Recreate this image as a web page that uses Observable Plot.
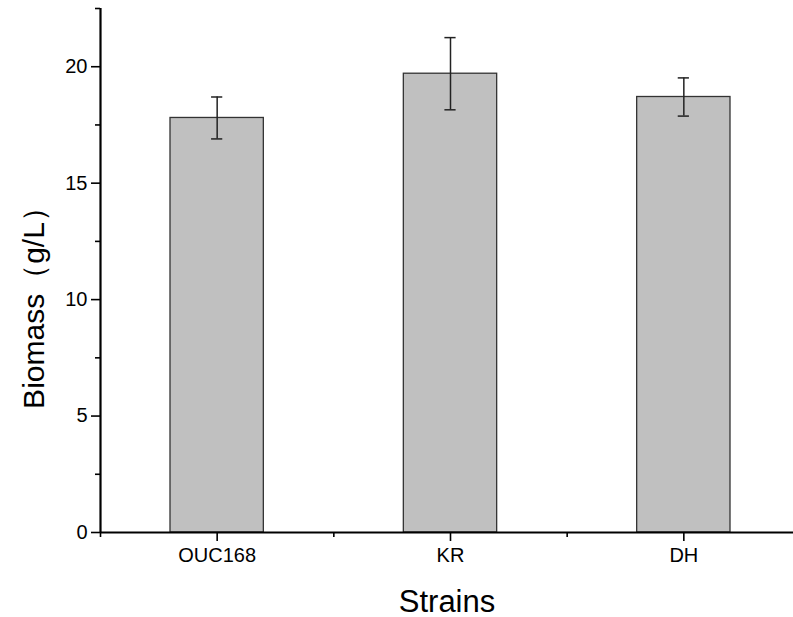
<!DOCTYPE html>
<html>
<head>
<meta charset="utf-8">
<script src="https://cdn.jsdelivr.net/npm/d3@7"></script>
<script src="https://cdn.jsdelivr.net/npm/@observablehq/plot@0.6"></script>
<style>
  html, body { margin: 0; padding: 0; background: #fff; }
</style>
</head>
<body>
<div id="chart"></div>
<script>
const categories = ["OUC168", "KR", "DH"];
const values = [17.8, 19.7, 18.7];
const errors = [0.9, 1.55, 0.82];
const yTicks = [0, 5, 10, 15, 20];
const yMinorTicks = [2.5, 7.5, 12.5, 17.5, 22.5];
const xTitle = "Strains";
const yTitle = "Biomass（g/L）";

const data = categories.map((c, i) => ({i, name: c, value: values[i], lo: values[i] - errors[i], hi: values[i] + errors[i]}));
const halfBar = 0.2;
const halfCap = 0.024;
const font = "'Liberation Sans', Arial, sans-serif";

const chart = Plot.plot({
  width: 793,
  height: 617,
  marginLeft: 100,
  marginRight: 0,
  marginTop: 8,
  marginBottom: 85,
  style: {fontFamily: font, color: "#000", background: "#fff", fontSize: "20px"},
  x: {domain: [-0.5, 2.5], range: [100, 800], axis: null},
  y: {domain: [0, 22.5], axis: null},
  marks: [
    Plot.rectY(data, {x1: d => d.i - halfBar, x2: d => d.i + halfBar, y1: 0, y2: "value", fill: "#c0c0c0", stroke: "#333", strokeWidth: 1.3}),
    Plot.ruleX(data, {x: "i", y1: "lo", y2: "hi", stroke: "#222", strokeWidth: 1.5}),
    Plot.ruleY(data, {y: "lo", x1: d => d.i - halfCap, x2: d => d.i + halfCap, stroke: "#222", strokeWidth: 1.5}),
    Plot.ruleY(data, {y: "hi", x1: d => d.i - halfCap, x2: d => d.i + halfCap, stroke: "#222", strokeWidth: 1.5}),
    // axis lines
    Plot.ruleY([0], {x1: -0.5, x2: 2.5, stroke: "#000", strokeWidth: 2.2}),
    Plot.ruleX([-0.5], {y1: 0, y2: 22.5, stroke: "#000", strokeWidth: 2.2}),
    // y axis
    Plot.axisY({ticks: yTicks, tickSize: 9, tickPadding: 4, fontSize: 20, anchor: "left", label: null, strokeWidth: 1.6}),
    Plot.axisY({ticks: yMinorTicks, tickSize: 5, tickFormat: () => "", anchor: "left", label: null, strokeWidth: 1.6}),
    // x axis
    Plot.axisX({ticks: [0, 1, 2], tickFormat: i => categories[i], tickSize: 9, tickPadding: 6, fontSize: 20, anchor: "bottom", label: null, strokeWidth: 1.6}),
    Plot.axisX({ticks: [-0.5, 0.5, 1.5], tickFormat: () => "", tickSize: 5, anchor: "bottom", label: null, strokeWidth: 1.6}),
    // titles
    Plot.text([xTitle], {text: d => d, frameAnchor: "bottom", lineAnchor: "bottom", dy: 79, fontSize: 31, fill: "#000"}),
    Plot.text([yTitle], {text: d => d, frameAnchor: "left", textAnchor: "middle", dx: -66, dy: 30, rotate: -90, fontSize: 30, fill: "#000"})
  ]
});
document.getElementById("chart").appendChild(chart);
</script>
</body>
</html>
